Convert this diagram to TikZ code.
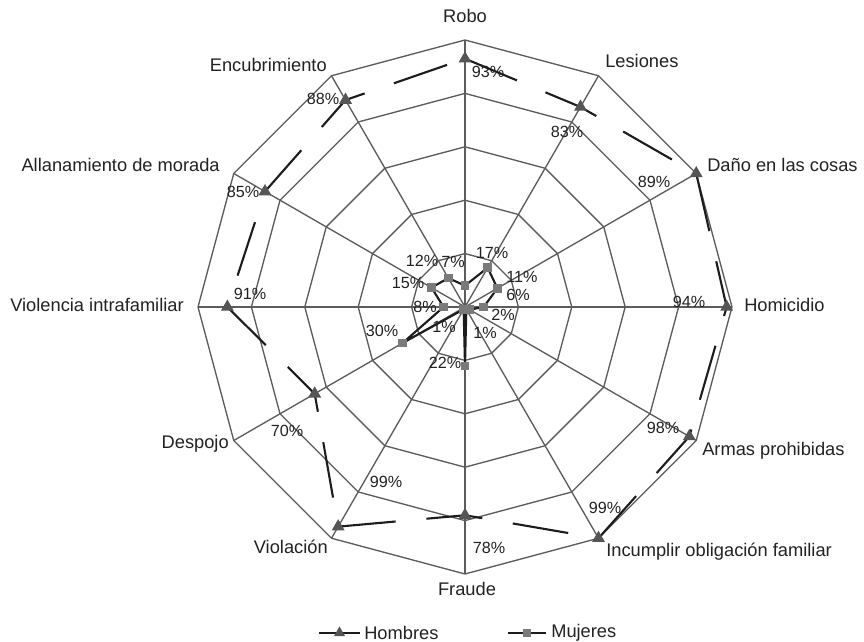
\documentclass[tikz,border=0pt]{standalone}
\usepackage{fontspec}
\setmainfont{Liberation Sans}
\usepackage{tikz}
\usetikzlibrary{calc,positioning}
\definecolor{netzgrau}{HTML}{5C5C5C}
\definecolor{linie}{HTML}{1C1C1C}
\definecolor{marke}{HTML}{555555}
\definecolor{quadrat}{HTML}{7A7A7A}
\definecolor{schrift}{HTML}{222222}

\begin{document}
\begin{tikzpicture}[x=0.025cm,y=0.025cm,
        netz/.style = {draw=netzgrau,line width=0.95pt},
        hombres/.style = {draw=linie,line width=1.5pt,dash pattern=on 40pt off 22pt,line join=round},
        mujeres/.style = {draw=linie,line width=1.5pt,line join=round},
        kat/.style = {inner sep=0pt,text=schrift,font=\fontsize{13}{15}\selectfont},
        proz/.style = {inner sep=0pt,text=schrift,font=\fontsize{11.5}{13}\selectfont}
        ]

        %Rahmen
        \useasboundingbox (-465,-335) rectangle (399,307);

        %Netz
        \foreach \i in {1,...,5}
        \draw[netz] (90:\i*53.4) \foreach \k in {1,...,11} { -- (90-\k*30:\i*53.4) } -- cycle;
        \foreach \k in {0,...,11} {
            \coordinate (o\k) at (90-\k*30:267);
            \draw[netz] (0,0) -- (o\k);
        }

        %Kategorien
        \node[kat,anchor=south] (k0) at ($(o0)+(0,17)$) {Robo};
        \node[kat,anchor=west] (k1) at (140,246) {Lesiones};
        \node[kat,anchor=west] (k2) at (242,142) {Daño en las cosas};
        \node[kat,anchor=west] (k3) at (279,2) {Homicidio};
        \node[kat,anchor=west] (k4) at (237,-144) {Armas prohibidas};
        \node[kat,anchor=west] (k5) at (141,-245) {Incumplir obligación familiar};
        \node[kat,anchor=north] (k6) at ($(o6)+(2,-8)$) {Fraude};
        \node[kat,anchor=east] (k7) at (-137,-240) {Violación};
        \node[kat,anchor=east] (k8) at (-236,-137) {Despojo};
        \node[kat,anchor=east] (k9) at (-281,2) {Violencia intrafamiliar};
        \node[kat,anchor=east] (k10) at (-245,142) {Allanamiento de morada};
        \node[kat,anchor=east] (k11) at (-138,242) {Encubrimiento};

        %Datenpunkte
        \foreach \w [count=\k from 0] in {.93,.865,1.0,.98,.97,1.0,.78,.95,.65,.89,.865,.895}
        \coordinate (h\k) at (90-\k*30:\w*267);
        \foreach \w [count=\k from 0] in {.08,.17,.14,.07,.02,.01,.22,.01,.27,.08,.145,.125}
        \coordinate (m\k) at (90-\k*30:\w*267);

        %Mujeres
        \draw[mujeres] (m0) -- (m1) -- (m2) -- (m3) -- (m4) -- (m5) -- (m6) -- (m7) -- (m8) -- (m9) -- (m10) -- (m11) -- cycle;
        \foreach \k in {0,...,11}
        \fill[quadrat] (m\k) +(-4.2,-4.2) rectangle +(4.2,4.2);

        %Hombres
        \draw[hombres] (h0) -- (h1) -- (h2) -- (h3) -- (h4) -- (h5) -- (h6) -- (h7) -- (h8) -- (h9) -- (h10) -- (h11) -- cycle;
        \foreach \k in {0,...,11}
        \fill[marke] (h\k) +(90:7.5) -- +(210:7.5) -- +(330:7.5) -- cycle;

        %Prozente Hombres
        \node[proz] (ph0) at (23,235) {93\%};
        \node[proz] (ph1) at (102,175) {83\%};
        \node[proz] (ph2) at (189,125) {89\%};
        \node[proz] (ph3) at (224,5) {94\%};
        \node[proz] (ph4) at (198,-121) {98\%};
        \node[proz] (ph5) at (140,-201) {99\%};
        \node[proz] (ph6) at (24,-241) {78\%};
        \node[proz] (ph7) at (-79,-175) {99\%};
        \node[proz] (ph8) at (-178,-124) {70\%};
        \node[proz] (ph9) at (-215,13) {91\%};
        \node[proz] (ph10) at (-222,115) {85\%};
        \node[proz] (ph11) at (-142,208) {88\%};

        %Prozente Mujeres
        \node[proz] (pm0) at (-12,45) {7\%};
        \node[proz] (pm1) at (27,54) {17\%};
        \node[proz] (pm2) at (57,30) {11\%};
        \node[proz] (pm3) at (53,12) {6\%};
        \node[proz] (pm4) at (38,-8) {2\%};
        \node[proz] (pm5) at (20,-26) {1\%};
        \node[proz] (pm6) at (-20,-56) {22\%};
        \node[proz] (pm7) at (-21,-20) {1\%};
        \node[proz] (pm8) at (-83,-24) {30\%};
        \node[proz] (pm9) at (-40,0) {8\%};
        \node[proz] (pm10) at (-57,24) {15\%};
        \node[proz] (pm11) at (-43,46) {12\%};

        %Legende
        \coordinate (lh1) at (-146,-326);
        \coordinate (lh2) at (-105,-326);
        \draw[mujeres] (lh1) -- coordinate (lh) (lh2);
        \fill[marke] (lh) +(90:6.5) -- +(210:6.5) -- +(330:6.5) -- cycle;
        \node[kat,anchor=west] (lhtext) at ($(lh2)+(4,0)$) {Hombres};
        \coordinate (lm1) at (43,-326);
        \coordinate (lm2) at (81,-326);
        \draw[mujeres] (lm1) -- coordinate (lm) (lm2);
        \fill[quadrat] (lm) +(-4.2,-4.2) rectangle +(4.2,4.2);
        \node[kat,anchor=west] (lmtext) at ($(lm2)+(5,0)$) {Mujeres};

    \end{tikzpicture}
\end{document}
